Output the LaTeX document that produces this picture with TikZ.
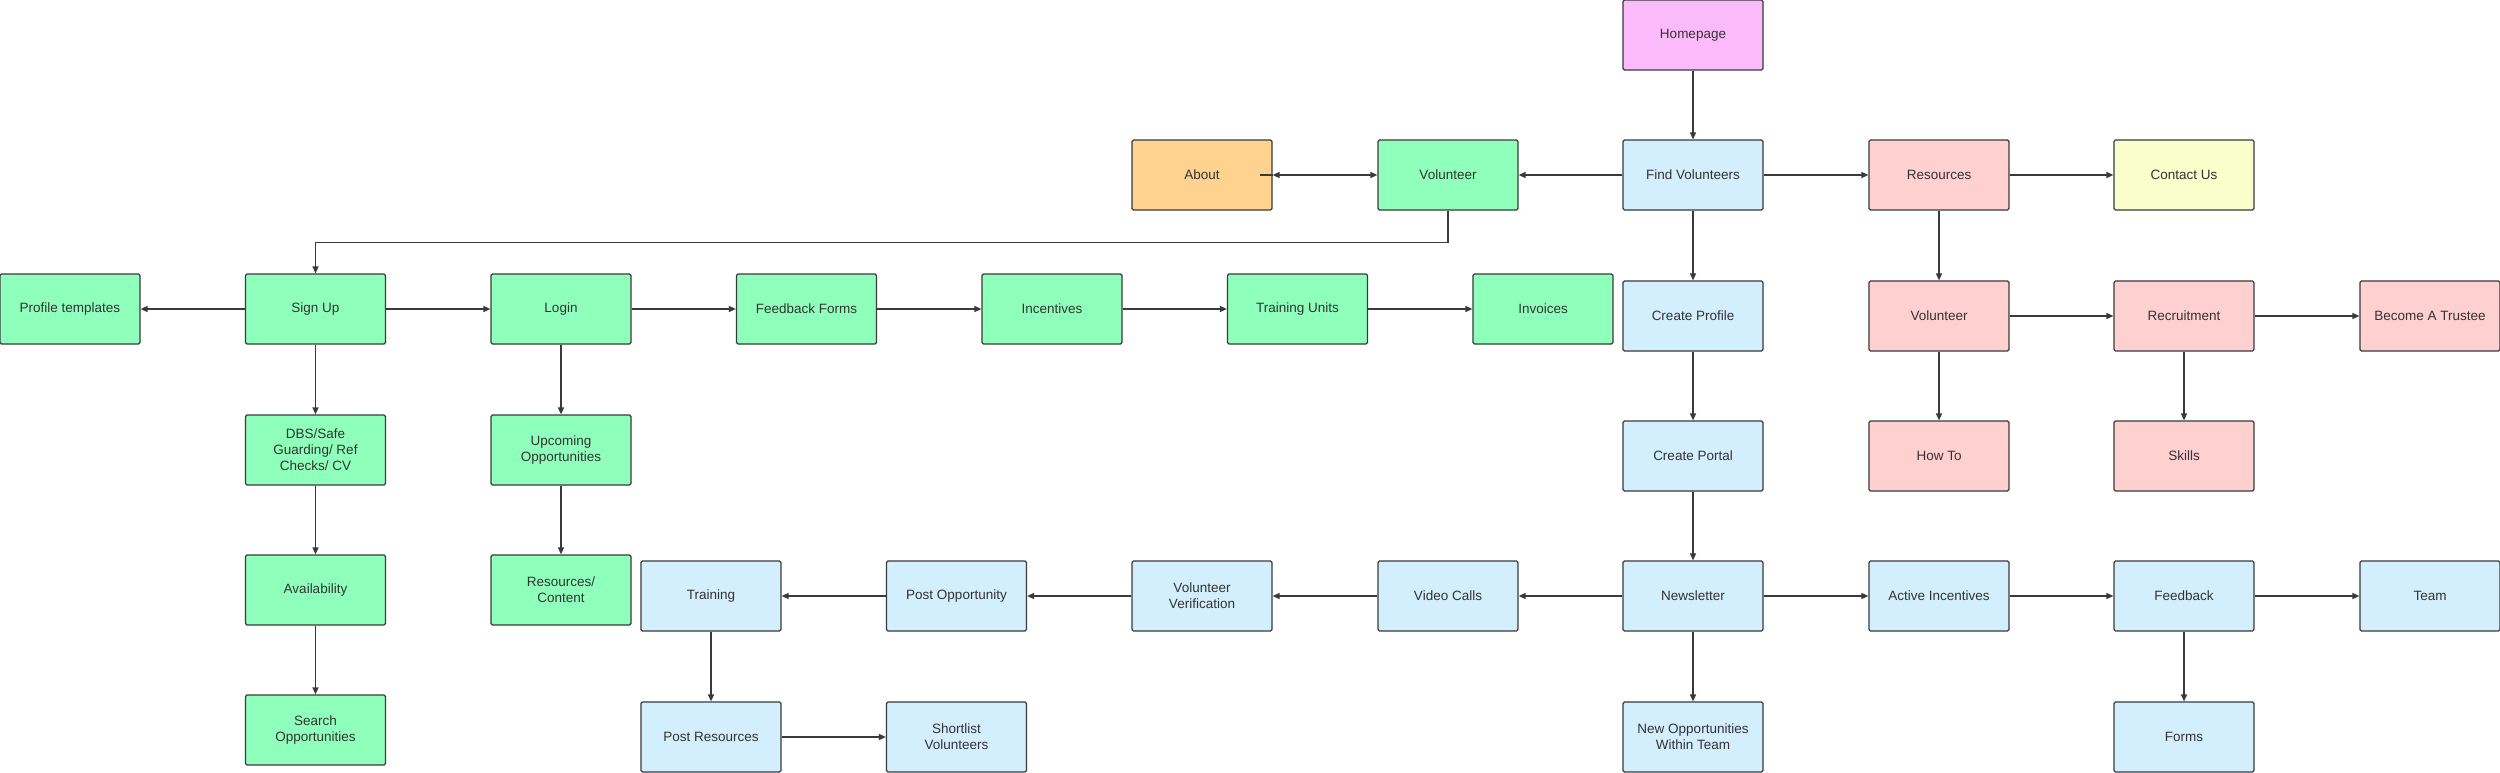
\documentclass[tikz,border=0pt]{standalone}
\usepackage{fontspec}
\setmainfont{Liberation Sans}
\usetikzlibrary{arrows.meta}
\definecolor{cgreen}{HTML}{8FFFBC}
\definecolor{cblue}{HTML}{D3EEFD}
\definecolor{cpink}{HTML}{FFD0D0}
\definecolor{corange}{HTML}{FFD28F}
\definecolor{cyellow}{HTML}{FAFECB}
\definecolor{cviolet}{HTML}{FBBAF9}
\definecolor{cline}{HTML}{3A3A3A}
\definecolor{ctext}{HTML}{333333}
\tikzset{
  box/.style={draw=cline, line width=1.2pt, rounded corners=1.5pt, minimum width=140pt, minimum height=70pt, inner sep=0pt, align=center, text=ctext, font=\fontsize{13.5}{16}\selectfont},
  gbox/.style={box, fill=cgreen},
  bbox/.style={box, fill=cblue},
  pbox/.style={box, fill=cpink},
  conn/.style={draw=cline, line width=1.4pt, -{Triangle[length=7pt,width=6pt]}},
}
\begin{document}
\begin{tikzpicture}[x=1pt,y=1pt]
\useasboundingbox[fill=white] (0,0) rectangle (2500,-772);
% top
\node[box, fill=cviolet] (home) at (1693,-35) {Homepage};
\node[box, fill=corange] (about) at (1202,-175) {About};
\node[gbox] (volg) at (1448,-175) {Volunteer};
\node[bbox] (findv) at (1693,-175) {Find Volunteers};
\node[pbox] (res) at (1939,-175) {Resources};
\node[box, fill=cyellow] (contact) at (2184,-175) {Contact Us};
% green row
\node[gbox] (proft) at (70,-309) {Profile templates};
\node[gbox] (signup) at (315.5,-309) {Sign Up};
\node[gbox] (login) at (561,-309) {Login};
\node[gbox] (fbforms) at (806.5,-309) {Feedback Forms};
\node[gbox] (incent) at (1052,-309) {Incentives};
\node[gbox] (trunits) at (1297.5,-309) {Training Units};
\node[gbox] (invoices) at (1543,-309) {Invoices};
\node[gbox] (dbs) at (315.5,-450) {DBS/Safe\\Guarding/ Ref\\Checks/ CV};
\node[gbox] (upcoming) at (561,-450) {Upcoming\\Opportunities};
\node[gbox] (avail) at (315.5,-590) {Availability};
\node[gbox] (rescont) at (561,-590) {Resources/\\Content};
\node[gbox] (search) at (315.5,-730) {Search\\Opportunities};
% right
\node[bbox] (cprof) at (1693,-316) {Create Profile};
\node[pbox] (volp) at (1939,-316) {Volunteer};
\node[pbox] (recruit) at (2184,-316) {Recruitment};
\node[pbox] (trustee) at (2430,-316) {Become A Trustee};
\node[bbox] (cportal) at (1693,-456) {Create Portal};
\node[pbox] (howto) at (1939,-456) {How To};
\node[pbox] (skills) at (2184,-456) {Skills};
% blue row
\node[bbox] (training) at (711,-596) {Training};
\node[bbox] (postopp) at (956.5,-596) {Post Opportunity};
\node[bbox] (verif) at (1202,-596) {Volunteer\\Verification};
\node[bbox] (video) at (1448,-596) {Video Calls};
\node[bbox] (news) at (1693,-596) {Newsletter};
\node[bbox] (active) at (1939,-596) {Active Incentives};
\node[bbox] (feedback) at (2184,-596) {Feedback};
\node[bbox] (team) at (2430,-596) {Team};
\node[bbox] (postres) at (711,-737) {Post Resources};
\node[bbox] (shortlist) at (956.5,-737) {Shortlist\\Volunteers};
\node[bbox] (newopp) at (1693,-737) {New Opportunities\\Within Team};
\node[bbox] (forms) at (2184,-737) {Forms};
% connectors
\draw[conn] (home) -- (findv);
\draw[conn] (findv) -- (volg);
\draw[draw=cline, line width=1.4pt] ([xshift=-13pt]about.east) -- (about.east);
\draw[conn, {Triangle[length=7pt,width=6pt]}-{Triangle[length=7pt,width=6pt]}] (about) -- (volg);
\draw[conn] (findv) -- (res);
\draw[conn] (res) -- (contact);
\draw[conn] (findv) -- (cprof);
\draw[conn] (res) -- (volp);
\draw[conn] (volp) -- (recruit);
\draw[conn] (recruit) -- (trustee);
\draw[conn] (volp) -- (howto);
\draw[conn] (recruit) -- (skills);
\draw[conn] (cprof) -- (cportal);
\draw[conn] (cportal) -- (news);
\draw[conn] (news) -- (video);
\draw[conn] (video) -- (verif);
\draw[conn] (verif) -- (postopp);
\draw[conn] (postopp) -- (training);
\draw[conn] (training) -- (postres);
\draw[conn] (postres) -- (shortlist);
\draw[conn] (news) -- (newopp);
\draw[conn] (news) -- (active);
\draw[conn] (active) -- (feedback);
\draw[conn] (feedback) -- (team);
\draw[conn] (feedback) -- (forms);
\draw[conn] (volg.south) -- ++(0,-32) -| (signup.north);
\draw[conn] (signup) -- (proft);
\draw[conn] (signup) -- (login);
\draw[conn] (login) -- (fbforms);
\draw[conn] (fbforms) -- (incent);
\draw[conn] (incent) -- (trunits);
\draw[conn] (trunits) -- (invoices);
\draw[conn] (signup) -- (dbs);
\draw[conn] (dbs) -- (avail);
\draw[conn] (avail) -- (search);
\draw[conn] (login) -- (upcoming);
\draw[conn] (upcoming) -- (rescont);
\end{tikzpicture}
\end{document}
